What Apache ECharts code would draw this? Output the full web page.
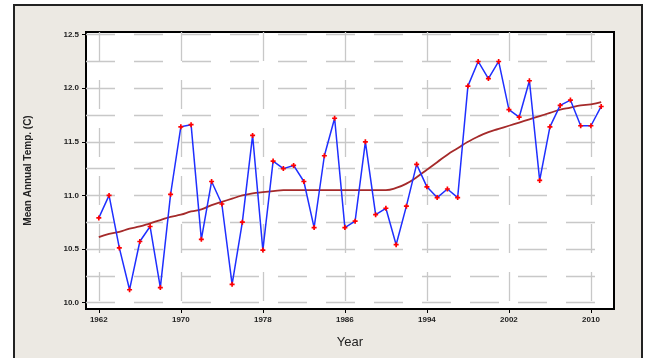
<!DOCTYPE html>
<html>
<head>
<meta charset="utf-8">
<script src="https://cdn.jsdelivr.net/npm/echarts@6/dist/echarts.min.js"></script>
<style>
html,body{margin:0;padding:0;background:#ffffff;}
#c{width:647px;height:358px;}
</style>
</head>
<body>
<div id="c"></div>
<script>
const years = [1962,1963,1964,1965,1966,1967,1968,1969,1970,1971,1972,1973,1974,1975,1976,1977,1978,1979,1980,1981,1982,1983,1984,1985,1986,1987,1988,1989,1990,1991,1992,1993,1994,1995,1996,1997,1998,1999,2000,2001,2002,2003,2004,2005,2006,2007,2008,2009,2010,2011];
const temps = [10.79,11.00,10.51,10.12,10.57,10.71,10.14,11.01,11.64,11.66,10.59,11.13,10.92,10.17,10.75,11.56,10.49,11.32,11.25,11.28,11.13,10.70,11.37,11.72,10.70,10.76,11.50,10.82,10.88,10.54,10.90,11.29,11.08,10.98,11.06,10.98,12.02,12.25,12.09,12.25,11.80,11.73,12.07,11.14,11.64,11.84,11.89,11.65,11.65,11.83];
const trend = [10.61,10.64,10.66,10.69,10.71,10.74,10.77,10.80,10.82,10.85,10.87,10.91,10.94,10.97,11.00,11.02,11.03,11.04,11.05,11.05,11.05,11.05,11.05,11.05,11.05,11.05,11.05,11.05,11.05,11.07,11.11,11.17,11.24,11.31,11.38,11.44,11.50,11.55,11.59,11.62,11.65,11.68,11.71,11.74,11.77,11.80,11.82,11.84,11.85,11.87];
const xTicks = [1962,1970,1978,1986,1994,2002,2010];
const yTicks = [10.0,10.5,11.0,11.5,12.0,12.5];
const yGridLines = [10.0,10.25,10.5,10.75,11.0,11.25,11.5,11.75,12.0,12.25,12.5];

const chart = echarts.init(document.getElementById('c'), null, {renderer:'canvas'});
const gridStyle = {color:'#c8c8c8', width:1.3, type:[29,19]};
const lblFont = {fontFamily:'Liberation Sans, Arial', fontSize:8, fontWeight:'bold', color:'#222'};
chart.setOption({
  animation:false,
  backgroundColor:'#ffffff',
  graphic:[{
    type:'rect', z:-10, silent:true,
    shape:{x:14, y:5, width:628, height:360},
    style:{fill:'#ECE9E3', stroke:'#222', lineWidth:2}
  }],
  grid:{left:86, right:33, top:32, bottom:49, show:true, backgroundColor:'#ffffff', borderColor:'#000', borderWidth:2},
  xAxis:[{
    type:'value', min:1960.75, max:2012.25,
    name:'Year', nameLocation:'middle', nameGap:27,
    nameTextStyle:{fontFamily:'Liberation Sans, Arial', fontSize:13, color:'#222'},
    axisLine:{show:false},
    axisTick:{show:true, customValues:xTicks, length:4, lineStyle:{color:'#000'}},
    axisLabel:{customValues:xTicks, margin:7, formatter:v=>String(v), ...lblFont},
    splitLine:{show:true, lineStyle:gridStyle}
  }],
  yAxis:[{
    type:'value', min:9.94, max:12.525,
    name:'Mean Annual Temp. (C)', nameLocation:'middle', nameGap:53,
    nameTextStyle:{fontFamily:'Liberation Sans, Arial', fontSize:10, fontWeight:'bold', color:'#222'},
    axisLine:{show:false},
    axisTick:{show:true, customValues:yTicks, length:4, lineStyle:{color:'#000'}},
    axisLabel:{customValues:yTicks, margin:7, formatter:v=>v.toFixed(1), ...lblFont},
    splitLine:{show:false}
  },{
    type:'value', min:9.94, max:12.525, position:'left',
    axisLine:{show:false},
    axisTick:{show:false, customValues:yGridLines},
    axisLabel:{show:false, customValues:yGridLines},
    splitLine:{show:true, lineStyle:gridStyle}
  }],
  series:[{
    type:'line', name:'trend', yAxisIndex:0,
    data:years.map((y,i)=>[y,trend[i]]),
    showSymbol:false, smooth:true,
    lineStyle:{color:'#a52a2a', width:1.8}, z:3
  },{
    type:'line', name:'temp', yAxisIndex:0,
    data:years.map((y,i)=>[y,temps[i]]),
    symbol:'path://M2,0H4V2H6V4H4V6H2V4H0V2H2Z', symbolSize:5,
    itemStyle:{color:'#ff0000'},
    lineStyle:{color:'#1f2fff', width:1.5}, z:4
  }]
});
</script>
</body>
</html>
